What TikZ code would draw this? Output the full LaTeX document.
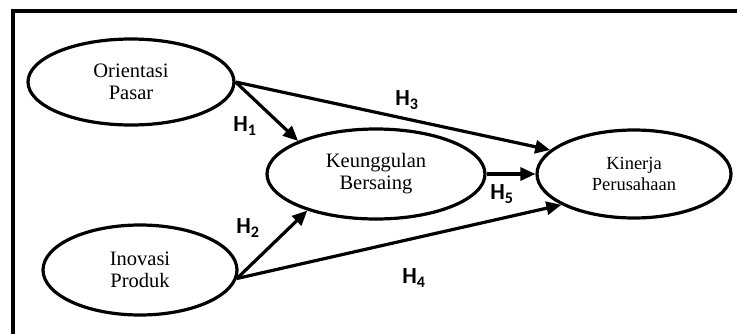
\documentclass[tikz,border=0pt]{standalone}
\usepackage{fontspec}
\setmainfont{Liberation Serif}
\newfontfamily\hfont{Carlito}
\usetikzlibrary{arrows.meta,shapes.geometric}
\begin{document}
\begin{tikzpicture}[x=1pt,y=-1pt,
  var/.style={ellipse,draw,line width=3.2pt,inner sep=0pt,align=center,
    font=\fontsize{20.5}{22}\selectfont},
  link/.style={line width=3.2pt,-{Triangle[length=15pt,width=13pt]}},
  hyp/.style={font=\hfont\bfseries\fontsize{23}{26}\selectfont,inner sep=0pt}]
\useasboundingbox (0,0) rectangle (737,333);
\draw[line width=4.5pt] (13,340) -- (13,11) -- (745,11);
\node[var,minimum width=206pt,minimum height=86pt] (op) at (131,82) {Orientasi\\Pasar};
\node[var,minimum width=194pt,minimum height=90pt] (ip) at (140,270) {Inovasi\\Produk};
\node[var,minimum width=218pt,minimum height=90pt] (kb) at (376,174) {Keunggulan\\Bersaing};
\node[var,minimum width=194pt,minimum height=88pt,font=\fontsize{18.5}{21}\selectfont] (kp) at (634,174) {Kinerja\\Perusahaan};
\draw[link] (op.east) -- (kb.157);
\draw[link] (op.east) -- (kp.164);
\draw[link] (ip.-5) -- (kb.208);
\draw[link] (ip.-5) -- (kp.203);
\draw[link] (kb.east) -- (kp.west);
\node[hyp] (h1) at (245,126) {H\textsubscript{1}};
\node[hyp] (h2) at (248,228) {H\textsubscript{2}};
\node[hyp] (h3) at (407,100) {H\textsubscript{3}};
\node[hyp] (h4) at (414,278) {H\textsubscript{4}};
\node[hyp] (h5) at (502,194) {H\textsubscript{5}};
\end{tikzpicture}
\end{document}
